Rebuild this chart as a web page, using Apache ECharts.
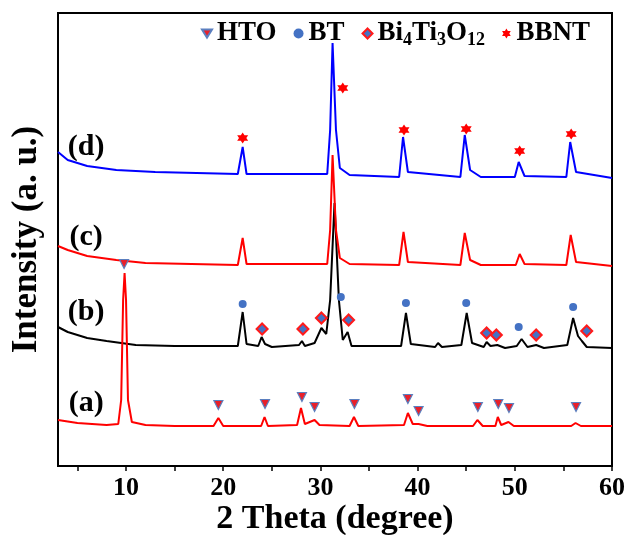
<!DOCTYPE html>
<html>
<head>
<meta charset="utf-8">
<script src="https://cdn.jsdelivr.net/npm/echarts@6/dist/echarts.min.js"></script>
<style>
  html, body { margin: 0; padding: 0; background: #fff; }
  #chart { width: 630px; height: 535px; }
</style>
</head>
<body>
<div id="chart"></div>
<script>
// XRD patterns, intensity in arbitrary units with each pattern offset vertically
// (a) HTO
const Data_A = [
  [3, 46], [5, 43], [8, 41], [9.2, 42], [9.5, 66], [9.7, 166], [9.85, 193], [10.0, 166], [10.2, 66], [10.6, 44],
  [12, 41], [15, 40], [19, 40], [19.5, 48], [20, 40], [23.9, 40], [24.25, 49], [24.6, 40],
  [27.6, 41], [28.0, 58], [28.4, 42], [29.4, 46], [29.9, 41], [33.0, 40], [33.45, 49], [33.9, 40],
  [38.6, 41], [39.0, 53], [39.5, 42], [40.1, 42], [41, 40], [45.7, 40], [46.15, 46], [46.7, 40],
  [48.0, 40], [48.25, 49], [48.6, 41], [49.35, 44], [49.9, 40], [55.8, 40], [56.25, 43], [56.8, 40], [60, 40]
];
// (b)
const Data_B = [
  [3, 139], [4, 134], [6, 128], [8, 125], [11, 121], [15, 120], [21.5, 120], [22.0, 154], [22.4, 122],
  [23.6, 120], [23.95, 129], [24.3, 122], [25, 119], [27.8, 121], [28.1, 125], [28.4, 120], [29.4, 123],
  [30.1, 138], [30.6, 132], [31.0, 166], [31.45, 263], [31.9, 166], [32.3, 126], [32.8, 134], [33.2, 120],
  [38.3, 120], [38.8, 153], [39.3, 122], [41.8, 119], [42.1, 123], [42.5, 119], [44.5, 121], [45.05, 153],
  [45.6, 123], [46.8, 119], [47.1, 124], [47.5, 120], [48.2, 121], [49, 118], [50.2, 120], [50.7, 127],
  [51.3, 119], [52.2, 121], [53, 118], [55.4, 121], [56.0, 148], [56.5, 130], [56.9, 125], [57.4, 119], [60, 118]
];
// (c)
const Data_C = [
  [3, 220], [4, 216], [6, 210], [9, 206], [12, 203], [21.5, 201], [22.0, 228], [22.4, 202], [30.7, 202],
  [31.0, 236], [31.25, 311], [31.6, 236], [32.0, 208], [33, 202], [38.1, 201], [38.55, 234], [39.0, 204],
  [44.4, 201], [44.85, 233], [45.4, 206], [46.5, 201], [50.1, 201], [50.5, 212], [51.0, 202],
  [55.3, 201], [55.75, 231], [56.3, 204], [60, 200]
];
// (d)
const Data_D = [
  [3, 314], [4, 306], [6, 300], [9, 296], [13, 294], [21.5, 292], [22.0, 319], [22.4, 292], [30.7, 292],
  [31.0, 336], [31.25, 423], [31.6, 336], [32.0, 298], [33, 291], [38.1, 289], [38.5, 329], [39.0, 294],
  [44.4, 289], [44.85, 331], [45.4, 296], [46.5, 289], [50.0, 289], [50.4, 304], [51.0, 290],
  [55.3, 289], [55.7, 324], [56.3, 294], [60, 288]
];

// phase markers
const Mark_HTO = [[9.8, 202], [19.5, 61], [24.3, 62], [28.1, 69], [29.4, 59], [33.5, 62], [39.0, 67], [40.1, 55], [46.2, 59], [48.3, 62], [49.4, 58], [56.3, 59]];
const Mark_BT = [[22.0, 162], [32.1, 169], [38.8, 163], [45.0, 163], [50.4, 139], [56.0, 159]];
const Mark_BiTO = [[24.0, 137], [28.2, 137], [30.1, 148], [32.9, 146], [47.1, 133], [48.1, 131], [52.2, 131], [57.4, 135]];
const Mark_BBNT = [[22.0, 328], [32.3, 378], [38.6, 336], [45.0, 337], [50.5, 315], [55.8, 332]];

const SampleNames = ['(a)', '(b)', '(c)', '(d)'];
const SampleLabelX = [5.9, 5.9, 5.9, 5.9];
const SampleLabelY = [63, 154, 229, 319];

const XTickLabels = [10, 20, 30, 40, 50, 60];
const XTicks = [5, 10, 15, 20, 25, 30, 35, 40, 45, 50, 55, 60];

const FONT = '"Liberation Serif", "DejaVu Serif", serif';
const STAR = 'path://M0,-10L2.9,-5L8.66,-5L5.77,0L8.66,5L2.9,5L0,10L-2.9,5L-8.66,5L-5.77,0L-8.66,-5L-2.9,-5Z';
const DOWN_TRI = 'path://M0,0L10,0L5,8Z';

function renderChart() {
  const chart = echarts.init(document.getElementById('chart'));
  const lineSeries = (data, color) => ({
    type: 'line',
    data: data,
    showSymbol: false,
    symbol: 'none',
    silent: true,
    lineStyle: { color: color, width: 2 },
    z: 2
  });
  const option = {
    animation: false,
    grid: {
      left: 58, right: 18, top: 13, bottom: 69,
      outerBoundsMode: 'none',
      containLabel: false,
      show: true, borderColor: '#000', borderWidth: 2, backgroundColor: 'transparent'
    },
    legend: {
      left: 196,
      top: 15,
      itemWidth: 10,
      itemHeight: 10,
      itemGap: 17,
      data: [
        { name: 'HTO', icon: DOWN_TRI },
        { name: 'BT', icon: 'circle' },
        { name: 'Bi4Ti3O12', icon: 'diamond' },
        { name: 'BBNT', icon: STAR }
      ],
      textStyle: {
        fontFamily: FONT, fontWeight: 'bold', fontSize: 27, color: '#000',
        rich: {
          n: { fontFamily: FONT, fontWeight: 'bold', fontSize: 27, color: '#000' },
          s: { fontFamily: FONT, fontWeight: 'bold', fontSize: 18, color: '#000', padding: [14, 0, 0, 0] }
        }
      },
      formatter: function (name) {
        if (name === 'Bi4Ti3O12') return '{n|Bi}{s|4}{n|Ti}{s|3}{n|O}{s|12}';
        return name;
      }
    },
    xAxis: {
      type: 'value',
      min: 3,
      max: 60,
      name: '2 Theta (degree)',
      nameLocation: 'middle',
      nameGap: 36,
      nameMoveOverlap: false,
      nameTextStyle: { fontFamily: FONT, fontWeight: 'bold', fontSize: 34, color: '#000' },
      splitLine: { show: false },
      axisLine: { lineStyle: { color: '#000', width: 2 } },
      axisTick: { show: true, length: 5, lineStyle: { color: '#000', width: 1.5 }, customValues: XTicks },
      axisLabel: {
        customValues: XTickLabels,
        margin: 9,
        fontFamily: FONT, fontWeight: 'bold', fontSize: 26, color: '#000'
      }
    },
    yAxis: {
      type: 'value',
      min: 0,
      max: 453,
      name: 'Intensity (a. u.)',
      nameLocation: 'middle',
      nameGap: 14,
      nameMoveOverlap: false,
      nameTextStyle: { fontFamily: FONT, fontWeight: 'bold', fontSize: 35, color: '#000' },
      splitLine: { show: false },
      axisLine: { show: true, lineStyle: { color: '#000', width: 2 } },
      axisTick: { show: false },
      axisLabel: { show: false }
    },
    series: [
      lineSeries(Data_B, '#000000'),
      lineSeries(Data_A, '#ff0000'),
      lineSeries(Data_C, '#ff0000'),
      lineSeries(Data_D, '#0000ff'),
      {
        name: 'HTO', type: 'scatter', data: Mark_HTO, symbol: 'triangle', symbolRotate: 180, symbolSize: 9,
        itemStyle: { color: '#e8202a', borderColor: '#5b7fbf', borderWidth: 1.2, opacity: 1 }, z: 5
      },
      {
        name: 'BT', type: 'scatter', data: Mark_BT, symbol: 'circle', symbolSize: 8,
        itemStyle: { color: '#4472c4', opacity: 1 }, z: 5
      },
      {
        name: 'Bi4Ti3O12', type: 'scatter', data: Mark_BiTO, symbol: 'diamond', symbolSize: 11,
        itemStyle: { color: '#4472c4', borderColor: '#ff1a1a', borderWidth: 2, opacity: 1 }, z: 5
      },
      {
        name: 'BBNT', type: 'scatter', data: Mark_BBNT, symbol: STAR, symbolSize: 11,
        itemStyle: { color: '#ff0000', opacity: 1 }, z: 5
      },
      {
        type: 'scatter',
        symbolSize: 0,
        silent: true,
        itemStyle: { opacity: 1 },
        data: SampleNames.map((n, i) => ({ value: [SampleLabelX[i], SampleLabelY[i]], name: n })),
        label: {
          show: true, position: 'inside', formatter: '{b}',
          fontFamily: FONT, fontWeight: 'bold', fontSize: 30, color: '#000'
        }
      }
    ]
  };
  chart.setOption(option, true);
}
renderChart();
</script>
</body>
</html>
